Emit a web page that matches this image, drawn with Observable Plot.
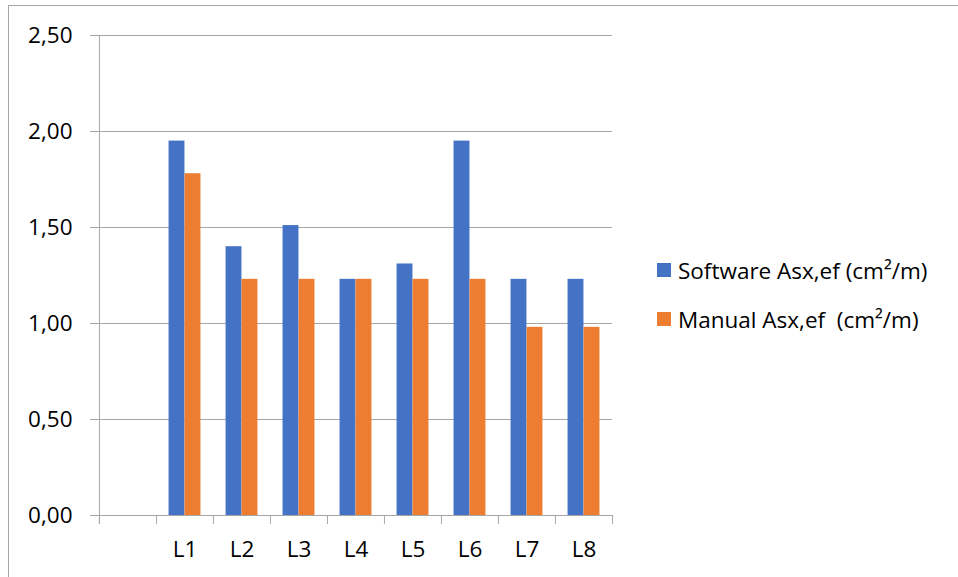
<!DOCTYPE html>
<html><head><meta charset="utf-8">
<script src="https://cdn.jsdelivr.net/npm/d3@7"></script>
<script src="https://cdn.jsdelivr.net/npm/@observablehq/plot@0.6"></script>
<style>
body{margin:0;background:#fff;}
#wrap{position:relative;width:958px;height:577px;overflow:hidden;font-family:"Open Sans",sans-serif;color:#000;}
#border{position:absolute;left:8px;top:5px;right:-2px;bottom:-2px;border-top:1px solid #a6a6a6;border-left:1px solid #a6a6a6;}
#chart{position:absolute;left:0;top:0;}
.lg{position:absolute;left:657px;height:30px;display:flex;align-items:center;font-size:22.5px;white-space:pre;}
.lg span.sw{width:14px;height:14px;display:inline-block;margin-right:7px;}
</style></head><body>
<div id="wrap"><div id="border"></div><div id="chart"></div><div id="legend"></div></div>
<script>
const categories = ["L1","L2","L3","L4","L5","L6","L7","L8"];
const software = [1.95,1.40,1.51,1.23,1.31,1.95,1.23,1.23];
const manual = [1.78,1.23,1.23,1.23,1.23,1.23,0.98,0.98];
const seriesNames = ["Software Asx,ef (cm²/m)", "Manual Asx,ef  (cm²/m)"];
const seriesColors = ["#4472C4", "#ED7D31"];
const yTicks = [0, 0.5, 1, 1.5, 2, 2.5];
const yTickLabels = ["0,00","0,50","1,00","1,50","2,00","2,50"];
const xDomain = ["", ...categories];

const W = 958, H = 577, mL = 98, mR = 346, mT = 35, mB = 62;
const bw = (W - mL - mR) / xDomain.length;
const barW = 16;
const gap = (bw - 2 * barW) / 2;
const grid = "#a6a6a6";

const rows = categories.map((c, i) => ({cat: c, software: software[i], manual: manual[i]}));

const plot = Plot.plot({
  width: W, height: H,
  marginLeft: mL, marginRight: mR, marginTop: mT, marginBottom: mB,
  style: {fontFamily: '"Open Sans", sans-serif', fontSize: "22.5px", color: "#000", background: "transparent"},
  x: {type: "band", domain: xDomain, paddingInner: 0, paddingOuter: 0, axis: null},
  y: {domain: [0, 2.5], axis: null},
  marks: [
    Plot.ruleY(yTicks, {y: d => d, insetLeft: -8, stroke: grid, strokeWidth: 1}),
    Plot.ruleX([""], {x: d => d, dx: -bw / 2, insetBottom: -9, stroke: grid}),
    Plot.ruleX(xDomain, {x: d => d, y1: 0, y2: 0, dx: -bw / 2, insetBottom: -9, stroke: grid}),
    Plot.ruleX([categories[categories.length - 1]], {x: d => d, y1: 0, y2: 0, dx: bw / 2, insetBottom: -9, stroke: grid}),
    Plot.barY(rows, {x: "cat", y: "software", fill: seriesColors[0], insetLeft: gap, insetRight: gap + barW}),
    Plot.barY(rows, {x: "cat", y: "manual", fill: seriesColors[1], insetLeft: gap + barW, insetRight: gap}),
    Plot.axisY({ticks: yTicks, tickSize: 0, tickPadding: 26, label: null, tickFormat: d => yTickLabels[yTicks.indexOf(d)], fill: "#000"}),
    Plot.axisX({tickSize: 0, tickPadding: 26, label: null, fill: "#000"})
  ]
});
document.getElementById("chart").appendChild(plot);

const lg = document.getElementById("legend");
const tops = [255, 304];
seriesNames.forEach((n, i) => {
  const d = document.createElement("div");
  d.className = "lg";
  d.style.top = tops[i] + "px";
  d.innerHTML = `<span class="sw" style="background:${seriesColors[i]}"></span>`;
  d.appendChild(document.createTextNode(n));
  lg.appendChild(d);
});
</script>
</body></html>
